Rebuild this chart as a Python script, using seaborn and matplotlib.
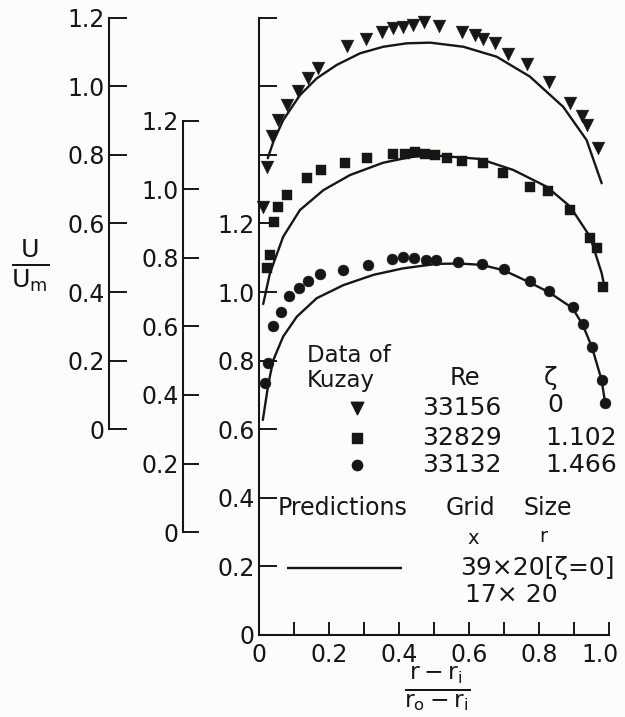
import numpy as np
import pandas as pd
import seaborn as sns
import matplotlib
matplotlib.use('Agg')
import matplotlib.pyplot as plt
from matplotlib.transforms import ScaledTranslation

sns.set_theme(style='white')
plt.rcParams['font.family'] = ['DejaVu Sans']
plt.rcParams['mathtext.fontset'] = 'dejavusans'

ink = '#161616'
paper = '#fcfcfa'

# --- data (r - ri)/(ro - ri) vs U/Um ---
# zeta = 0, Re = 33156 (triangles), plotted with +0.6 offset
tri_x = [0.011, 0.022, 0.036, 0.055, 0.079, 0.112, 0.141, 0.169, 0.251, 0.306, 0.351, 0.384, 0.412,
         0.441, 0.471, 0.515, 0.579, 0.617, 0.641, 0.674, 0.712, 0.767, 0.829, 0.889, 0.922, 0.938, 0.969]
tri_y = [0.648, 0.765, 0.855, 0.901, 0.945, 0.985, 1.023, 1.052, 1.116, 1.138, 1.159, 1.169, 1.173,
         1.178, 1.186, 1.175, 1.158, 1.149, 1.138, 1.125, 1.094, 1.065, 1.013, 0.951, 0.913, 0.887, 0.821]
tri_pred_x = [0.025, 0.041, 0.069, 0.117, 0.165, 0.222, 0.289, 0.355, 0.422, 0.489, 0.584, 0.679,
              0.774, 0.869, 0.936, 0.979]
tri_pred_y = [0.790, 0.838, 0.901, 0.974, 1.023, 1.062, 1.096, 1.115, 1.125, 1.127, 1.115, 1.086,
              1.028, 0.940, 0.843, 0.717]

# zeta = 1.102, Re = 32829 (squares), plotted with +0.3 offset
sq_x = [0.022, 0.031, 0.043, 0.055, 0.081, 0.138, 0.176, 0.246, 0.308, 0.384, 0.417, 0.446, 0.474,
        0.503, 0.536, 0.579, 0.639, 0.698, 0.773, 0.827, 0.889, 0.946, 0.965, 0.984]
sq_y = [0.769, 0.808, 0.905, 0.949, 0.983, 1.031, 1.056, 1.075, 1.090, 1.102, 1.102, 1.109, 1.102,
        1.099, 1.090, 1.083, 1.077, 1.046, 1.005, 0.994, 0.938, 0.857, 0.827, 0.715]
sq_pred_x = [0.012, 0.031, 0.069, 0.117, 0.184, 0.260, 0.355, 0.431, 0.489, 0.631, 0.726, 0.822,
             0.889, 0.946, 0.979, 0.989]
sq_pred_y = [0.665, 0.754, 0.861, 0.939, 0.997, 1.041, 1.077, 1.093, 1.099, 1.088, 1.056, 1.007,
             0.949, 0.861, 0.755, 0.706]

# zeta = 1.466, Re = 33132 (circles), no offset
ci_x = [0.017, 0.027, 0.039, 0.062, 0.087, 0.115, 0.141, 0.175, 0.241, 0.310, 0.379, 0.411, 0.443,
        0.477, 0.506, 0.568, 0.638, 0.699, 0.773, 0.828, 0.897, 0.927, 0.951, 0.979, 0.989]
ci_y = [0.736, 0.794, 0.901, 0.943, 0.987, 1.011, 1.032, 1.053, 1.065, 1.079, 1.095, 1.101, 1.100,
        1.093, 1.092, 1.087, 1.082, 1.066, 1.031, 1.002, 0.956, 0.906, 0.841, 0.743, 0.676]
ci_pred_x = [0.011, 0.027, 0.041, 0.069, 0.108, 0.165, 0.241, 0.327, 0.412, 0.508, 0.574, 0.637,
             0.700, 0.771, 0.827, 0.896, 0.925, 0.951, 0.979, 0.989]
ci_pred_y = [0.627, 0.734, 0.802, 0.870, 0.928, 0.982, 1.020, 1.050, 1.069, 1.082, 1.083, 1.079,
             1.063, 1.029, 1.000, 0.953, 0.904, 0.840, 0.743, 0.676]

offsets = {'tri': 0.6, 'sq': 0.3, 'ci': 0.0}

# --- layout (pixels of a 625x717 canvas) ---
W, H = 625, 717
x0_px, y0_px = 259, 635
px_x, px_y = 350, 343
tick_fs = 17

fig = plt.figure(figsize=(W / 100, H / 100), dpi=100, facecolor=paper)
ax = fig.add_axes([x0_px / W, (H - y0_px) / H, px_x / W, 1.8 * px_y / H])
ax.set_facecolor('none')

series = [
    ('tri', tri_x, tri_y, tri_pred_x, tri_pred_y, 'v', 85),
    ('sq', sq_x, sq_y, sq_pred_x, sq_pred_y, 's', 62),
    ('ci', ci_x, ci_y, ci_pred_x, ci_pred_y, 'o', 62),
]
for key, xs, ys, px_, py_, mk, sz in series:
    off = offsets[key]
    pts = pd.DataFrame({'x': xs, 'y': np.array(ys) + off})
    pred = pd.DataFrame({'x': px_, 'y': np.array(py_) + off})
    sns.lineplot(data=pred, x='x', y='y', sort=False, estimator=None, color=ink, lw=1.7, ax=ax)
    sns.scatterplot(data=pts, x='x', y='y', marker=mk, s=sz, color=ink, edgecolor=ink,
                    linewidth=0.3, ax=ax, zorder=3, clip_on=False)

ax.set_xlim(0, 1.0)
ax.set_ylim(0, 1.8)
for s in ['top', 'right']:
    ax.spines[s].set_visible(False)
for s in ['left', 'bottom']:
    ax.spines[s].set_color(ink)
    ax.spines[s].set_linewidth(1.5)

ax.set_xticks(np.arange(0, 1.01, 0.1))
ax.set_xticklabels(['0', '', '0.2', '', '0.4', '', '0.6', '', '0.8', '', '1.0'])
yt = np.arange(0, 1.81, 0.2)
ax.set_yticks(yt)
ax.set_yticklabels(['0', '0.2', '0.4', '0.6', '0.8', '1.0', '1.2', '', '', ''])
ax.tick_params(axis='x', direction='in', length=9.5, width=1.4, color=ink, labelsize=tick_fs,
               labelcolor=ink, pad=6, bottom=True)
ax.tick_params(axis='y', direction='in', length=13, width=1.4, color=ink, labelsize=tick_fs,
               labelcolor=ink, pad=3, left=True)
ax.set_xlabel('')
ax.set_ylabel('')
# nudge the last x label a little left, as in the original
last = ax.get_xticklabels()[-1]
last.set_transform(last.get_transform() + ScaledTranslation(-0.09, 0, fig.dpi_scale_trans))

# extra offset y-axes
for off, spine_px, tl in [(0.3, 183, 11.5), (0.6, 109, 13)]:
    a = fig.add_axes([spine_px / W, (H - y0_px + off * px_y) / H, 0.002, 1.2 * px_y / H])
    a.set_facecolor('none')
    a.set_ylim(0, 1.2)
    a.set_yticks(np.arange(0, 1.21, 0.2))
    a.set_yticklabels(['0', '0.2', '0.4', '0.6', '0.8', '1.0', '1.2'])
    a.tick_params(axis='y', direction='in', length=tl, width=1.4, color=ink, labelsize=tick_fs,
                  labelcolor=ink, pad=3, left=True)
    a.xaxis.set_visible(False)
    for s in ['top', 'right', 'bottom']:
        a.spines[s].set_visible(False)
    a.spines['left'].set_color(ink)
    a.spines['left'].set_linewidth(1.5)

# axis titles
fig.text(30 / W, 1 - 266 / H, r'$\frac{\mathrm{U}}{\mathrm{U_m}}$', fontsize=26, color=ink,
         ha='center', va='center')
fig.text(437 / W, 1 - 689 / H, r'$\frac{\mathrm{r}-\mathrm{r_i}}{\mathrm{r_o}-\mathrm{r_i}}$',
         fontsize=24, color=ink, ha='center', va='center')

# legend block (axes data coordinates)
tkw = dict(color=ink, va='center')
ax.text(0.136, 0.816, 'Data of', fontsize=16.5, ha='left', **tkw)
ax.text(0.136, 0.743, 'Kuzay', fontsize=16.5, ha='left', **tkw)
ax.text(0.589, 0.749, 'Re', fontsize=17.5, ha='center', **tkw)
ax.text(0.834, 0.749, 'ζ', fontsize=18, ha='center', **tkw)
leg_rows = [('v', 80, '33156', '0', 0.662), ('s', 55, '32829', '1.102', 0.573),
            ('o', 55, '33132', '1.466', 0.496)]
for mk, sz, re_txt, z_txt, yy in leg_rows:
    ax.scatter([0.279], [yy], marker=mk, s=sz, color=ink, clip_on=False)
    ax.text(0.693, yy, re_txt, fontsize=18, ha='right', **tkw)
    if z_txt == '0':
        ax.text(0.846, yy + 0.008, z_txt, fontsize=18, ha='center', **tkw)
    else:
        ax.text(1.022, yy, z_txt, fontsize=18, ha='right', **tkw)

ax.text(0.054, 0.370, 'Predictions', fontsize=17, ha='left', **tkw)
ax.text(0.604, 0.370, 'Grid', fontsize=17, ha='center', **tkw)
ax.text(0.824, 0.370, 'Size', fontsize=17, ha='center', **tkw)
ax.text(0.611, 0.280, 'x', fontsize=14, ha='center', **tkw)
ax.text(0.811, 0.286, 'r', fontsize=14, ha='center', **tkw)
ax.hlines(0.194, 0.079, 0.408, color=ink, lw=1.7)
ax.text(0.574, 0.195, '39×20[ζ=0]', fontsize=18, ha='left', **tkw)
ax.text(0.589, 0.117, '17× 20', fontsize=18, ha='left', **tkw)

fig.savefig('out.png', dpi=100, facecolor=paper)
